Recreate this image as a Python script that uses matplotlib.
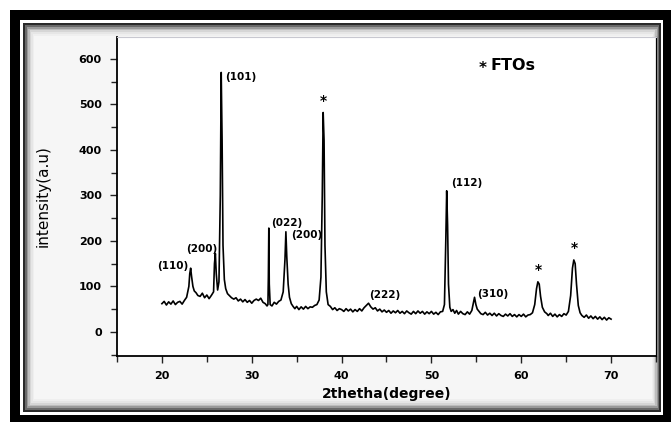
import matplotlib as mpl
import matplotlib.pyplot as plt
from matplotlib.patches import Rectangle
from matplotlib.ticker import MultipleLocator

# XRD pattern
two_theta = [
	20.0, 20.25, 20.5, 20.75, 21.0, 21.25, 21.5, 21.75, 22.0, 22.25, 22.5, 22.75,
	23.0, 23.1, 23.2, 23.3, 23.45, 23.6, 23.8, 24.0, 24.25, 24.5, 24.75, 25.0, 25.25, 25.5,
	25.75, 25.85, 25.95, 26.05, 26.2, 26.35, 26.5, 26.6, 26.7, 26.8, 26.95, 27.1, 27.3, 27.5,
	27.75, 28.0, 28.25, 28.5, 28.75, 29.0, 29.25, 29.5, 29.75, 30.0, 30.25, 30.5, 30.75, 31.0,
	31.25, 31.5, 31.7, 31.8, 31.85, 31.9, 31.95, 32.05, 32.25, 32.5, 32.75, 33.0, 33.25, 33.5,
	33.7, 33.8, 33.9, 34.05, 34.2, 34.4, 34.6, 34.8, 35.0, 35.25, 35.5, 35.75, 36.0, 36.25,
	36.5, 36.75, 37.0, 37.25, 37.5, 37.7, 37.85, 37.95, 38.05, 38.15, 38.3, 38.5, 38.75, 39.0,
	39.25, 39.5, 39.75, 40.0, 40.25, 40.5, 40.75, 41.0, 41.25, 41.5, 41.75, 42.0, 42.25, 42.5,
	42.75, 43.0, 43.25, 43.5, 43.75, 44.0, 44.25, 44.5, 44.75, 45.0, 45.25, 45.5, 45.75, 46.0,
	46.25, 46.5, 46.75, 47.0, 47.25, 47.5, 47.75, 48.0, 48.25, 48.5, 48.75, 49.0, 49.25, 49.5,
	49.75, 50.0, 50.25, 50.5, 50.75, 51.0, 51.25, 51.45, 51.6, 51.7, 51.8, 51.9, 52.05, 52.2,
	52.4, 52.6, 52.8, 53.0, 53.25, 53.5, 53.75, 54.0, 54.25, 54.5, 54.65, 54.8, 54.95, 55.1,
	55.3, 55.5, 55.75, 56.0, 56.25, 56.5, 56.75, 57.0, 57.25, 57.5, 57.75, 58.0, 58.25, 58.5,
	58.75, 59.0, 59.25, 59.5, 59.75, 60.0, 60.25, 60.5, 60.75, 61.0, 61.25, 61.5, 61.7, 61.85,
	62.0, 62.15, 62.35, 62.6, 62.85, 63.0, 63.25, 63.5, 63.75, 64.0, 64.25, 64.5, 64.75, 65.0,
	65.25, 65.5, 65.7, 65.85, 66.0, 66.15, 66.35, 66.55, 66.75, 67.0, 67.25, 67.5, 67.75, 68.0,
	68.25, 68.5, 68.75, 69.0, 69.25, 69.5, 69.75, 70.0]
intensity = [
	62, 67, 59, 66, 61, 68, 60, 65, 67, 61, 69, 76,
	100, 128, 140, 122, 100, 90, 86, 80, 78, 85, 75, 81, 73, 80,
	88, 150, 172, 128, 92, 110, 300, 570, 420, 190, 115, 95, 84, 80,
	75, 72, 75, 68, 72, 66, 71, 65, 69, 63, 69, 72, 69, 74,
	65, 62, 57, 60, 120, 228, 105, 60, 57, 65, 61, 67, 70, 88,
	160, 220, 165, 105, 76, 62, 56, 51, 56, 49, 55, 50, 56, 51,
	55, 54, 58, 60, 70, 120, 300, 482, 420, 190, 88, 60, 56, 49,
	53, 47, 51, 49, 45, 51, 46, 50, 44, 49, 45, 51, 46, 53,
	58, 63, 55, 50, 53, 46, 50, 44, 48, 43, 47, 41, 46, 42,
	47, 41, 45, 40, 46, 42, 39, 45, 40, 46, 41, 45, 39, 44,
	40, 45, 39, 43, 38, 44, 45, 60, 200, 310, 235, 105, 54, 45,
	49, 41, 47, 39, 45, 40, 38, 44, 39, 47, 62, 76, 60, 50,
	45, 40, 38, 43, 37, 41, 36, 41, 35, 40, 36, 34, 39, 35,
	40, 34, 38, 33, 38, 34, 39, 33, 37, 38, 42, 60, 95, 110,
	105, 78, 54, 44, 40, 36, 41, 34, 39, 33, 38, 34, 40, 37,
	45, 80, 140, 158, 150, 105, 58, 42, 36, 32, 37, 30, 35, 29,
	34, 28, 33, 27, 32, 26, 31, 28]

# peak labels (text, 2theta, intensity)
peak_labels = ['(110)', '(200)', '(101)', '(022)', '(200)', '(222)', '(112)', '(310)']
peak_label_x = [21.2, 24.4, 28.8, 33.9, 36.1, 44.8, 53.9, 56.8]
peak_label_y = [145, 182, 560, 240, 212, 80, 328, 84]
# FTO substrate peaks marked with a star
fto_x = [37.95, 61.9, 65.9]
fto_y = [482, 110, 158]

W, H = 671, 422
fig = plt.figure(figsize = (W / 100, H / 100), dpi = 100)

def px_rect(x0, y0, x1, y1, **kw):
	# rectangle given in image pixels (origin top-left), kept behind the axes
	fig.patches.append(Rectangle((x0 / W, 1 - y1 / H), (x1 - x0) / W, (y1 - y0) / H,
		transform = fig.transFigure, figure = fig, zorder = -10, **kw))

# scanned frame: black border, thin white gap, dark line, grey-to-white inner panel
px_rect(10, 10, 671, 422, facecolor = 'black', edgecolor = 'none')
px_rect(20, 20, 663, 415, facecolor = 'white', edgecolor = 'none')
px_rect(23, 23, 661, 412, facecolor = '#2a2a2a', edgecolor = 'none')
shades = ['#6a6a6a', '#9a9a9a', '#bdbdbd', '#d6d6d6', '#e6e6e6', '#efefef', '#f6f6f6']
for i, c in enumerate(shades):
	px_rect(25 + i * 1.5, 25 + i * 1.8, 659 - i * 1.2, 410 - i * 1.8, facecolor = c, edgecolor = 'none')

ax = fig.add_axes([117 / W, 1 - 356 / H, 539 / W, 319 / H])
ax.set_facecolor('white')
ax.plot(two_theta, intensity, color = 'black', lw = 1.2)

ax.set_xlim(15, 75)
ax.set_ylim(-53, 648)
ax.set_xticks([20, 30, 40, 50, 60, 70])
ax.set_yticks([0, 100, 200, 300, 400, 500, 600])
ax.xaxis.set_minor_locator(MultipleLocator(5))
ax.yaxis.set_minor_locator(MultipleLocator(50))
ax.tick_params(which = 'both', direction = 'out', width = 1.0, color = '#222222')
ax.tick_params(which = 'major', length = 5, labelsize = 8, pad = 6)
ax.tick_params(which = 'minor', length = 4)
for lab in ax.get_xticklabels() + ax.get_yticklabels():
	lab.set_fontweight('bold')

for side in ['left', 'bottom']:
	ax.spines[side].set_linewidth(1.3)
ax.spines['right'].set_linewidth(0.9)
ax.spines['top'].set_color('#c8c8d0')
ax.spines['top'].set_linewidth(0.8)

ax.set_xlabel('2thetha(degree)', fontsize = 10, fontweight = 'bold', labelpad = 4)
ax.set_ylabel('intensity(a.u)', fontsize = 11, labelpad = 20)

for lab, x, y in zip(peak_labels, peak_label_x, peak_label_y):
	ax.text(x, y, lab, ha = 'center', va = 'center', fontsize = 7.5, fontweight = 'bold')
for x, y in zip(fto_x, fto_y):
	ax.text(x, y + 10, '*', ha = 'center', va = 'bottom', fontsize = 10, fontweight = 'bold')

ax.text(55.7, 578, '*', ha = 'center', va = 'center', fontsize = 11, fontweight = 'bold')
ax.text(56.6, 585, 'FTOs', ha = 'left', va = 'center', fontsize = 11.5, fontweight = 'bold')

plt.savefig('out.png', dpi = 100)
plt.close()
